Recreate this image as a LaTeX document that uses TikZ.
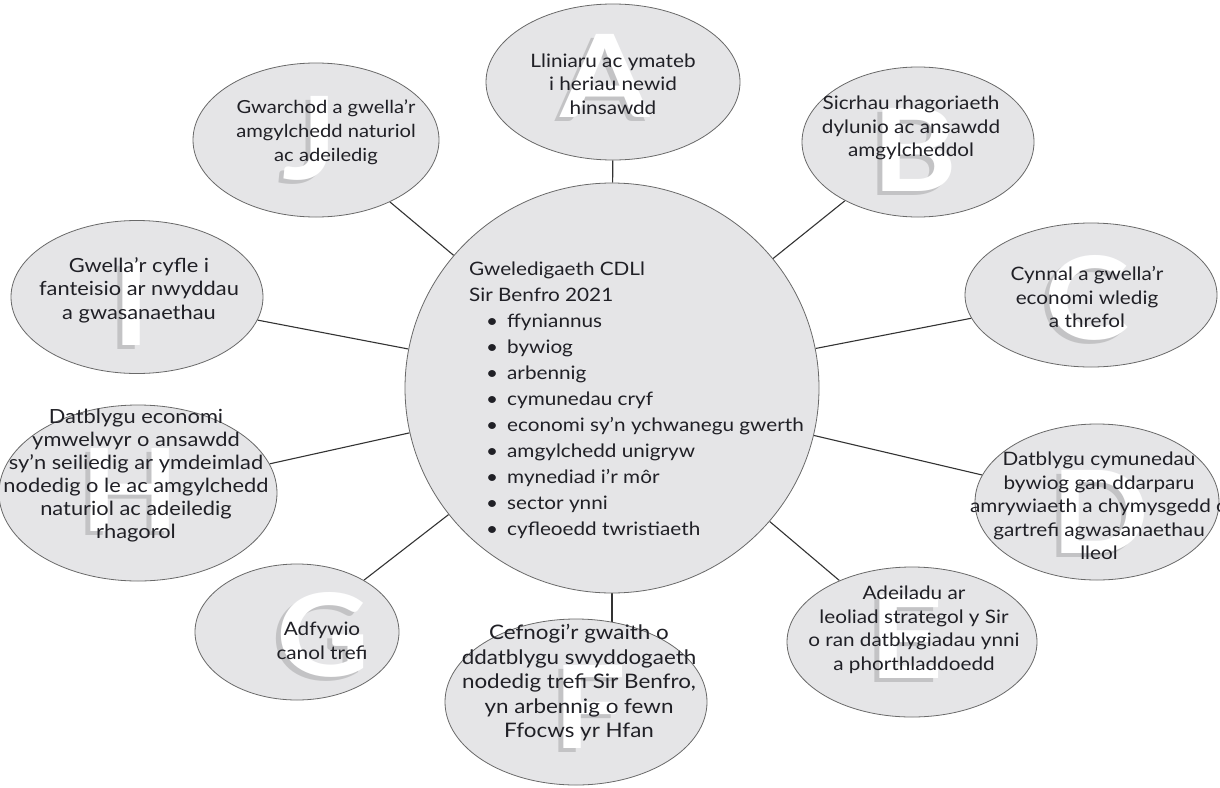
\documentclass[tikz,border=0pt]{standalone}
\usepackage{fontspec}
\setmainfont{Lato}[FakeStretch=1.12]
\usetikzlibrary{shapes.geometric,backgrounds}
\definecolor{bubfill}{RGB}{229,229,231}
\definecolor{bubline}{RGB}{105,105,105}
\definecolor{txtcol}{RGB}{32,32,38}
\newcommand{\zbul}{\hspace*{17pt}\makebox[21pt][l]{\textbullet}}
\begin{document}
\begin{tikzpicture}[x=1pt,y=-1pt,
  bub/.style={ellipse, draw=bubline, line width=0.8pt, fill=bubfill, inner sep=0pt},
  txt/.style={align=center, text=txtcol, font=\fontsize{18.5}{23.5}\selectfont, inner sep=0pt},
  bigtxt/.style={align=center, text=txtcol, font=\fontsize{19.5}{23.5}\selectfont, inner sep=0pt},
  ztxt/.style={align=left, text=txtcol, font=\fontsize{18.5}{26}\selectfont, inner sep=0pt},
  bigl/.style={text=white, font=\fontsize{115}{115}\selectfont\bfseries, inner sep=0pt},
  bigs/.style={text=black!50, opacity=0.33, font=\fontsize{115}{115}\selectfont\bfseries, inner sep=0pt},
  conn/.style={draw=black!80, line width=1.1pt}]
\useasboundingbox (0,0) rectangle (1220,787);

% bubbles
\node[bub, minimum width=414, minimum height=410] (Z) at (612,388) {};
\node[bub, minimum width=254, minimum height=156] (A) at (613,82) {};
\node[bub, minimum width=232, minimum height=150] (B) at (918,142) {};
\node[bub, minimum width=252, minimum height=144] (C) at (1091,295) {};
\node[bub, minimum width=244, minimum height=156] (D) at (1097,502) {};
\node[bub, minimum width=250, minimum height=150] (E) at (912,642) {};
\node[bub, minimum width=262, minimum height=166] (F) at (576,702) {};
\node[bub, minimum width=204, minimum height=136] (G) at (297,632) {};
\node[bub, minimum width=278, minimum height=176] (H) at (138,493) {};
\node[bub, minimum width=252, minimum height=153] (I) at (137,297) {};
\node[bub, minimum width=246, minimum height=154] (J) at (316,140) {};

% big faded letters
\node[bigs] (As) at (600,80) {A};   \node[bigl] (Al) at (605,76) {A};
\node[bigs] (Bs) at (910,154) {B};  \node[bigl] (Bl) at (915,150) {B};
\node[bigs] (Cs) at (1082,302) {C}; \node[bigl] (Cl) at (1087,298) {C};
\node[bigs] (Ds) at (1095,516) {D}; \node[bigl] (Dl) at (1100,512) {D};
\node[bigs] (Es) at (902,641) {E};  \node[bigl] (El) at (907,637) {E};
\node[bigs] (Fs) at (585,711) {F};  \node[bigl] (Fl) at (590,707) {F};
\node[bigs] (Gs) at (318,639) {G};  \node[bigl] (Gl) at (323,635) {G};
\node[bigs] (Hs) at (125,494) {H};  \node[bigl] (Hl) at (130,490) {H};
\node[bigs] (Is) at (127,308) {I};  \node[bigl] (Il) at (132,304) {I};
\node[bigs] (Js) at (305,142) {J};  \node[bigl] (Jl) at (310,138) {J};

% texts
\node[txt] (At) at (613,84) {Lliniaru ac ymateb\\i heriau newid\\hinsawdd};
\node[txt] (Bt) at (911,128) {Sicrhau rhagoriaeth\\dylunio ac ansawdd\\amgylcheddol};
\node[txt] (Ct) at (1087,297) {Cynnal a gwella’r\\economi wledig\\a threfol};
\node[txt] (Dt) at (1099,506) {Datblygu cymunedau\\bywiog gan ddarparu\\amrywiaeth a chymysgedd o\\gartrefi agwasanaethau\\lleol};
\node[txt] (Et) at (914,630) {Adeiladu ar\\leoliad strategol y Sir\\o ran datblygiadau ynni\\a phorthladdoedd};
\node[bigtxt, font=\fontsize{20}{24.5}\selectfont] (Ft) at (579,683) {Cefnogi’r gwaith o\\ddatblygu swyddogaeth\\nodedig trefi Sir Benfro,\\yn arbennig o fewn\\Ffocws yr Hfan};
\node[txt] (Gt) at (322,641) {Adfywio\\canol trefi};
\node[bigtxt, font=\fontsize{19.5}{23}\selectfont] (Ht) at (136,476) {Datblygu economi\\ymwelwyr o ansawdd\\sy’n seiliedig ar ymdeimlad\\nodedig o le ac amgylchedd\\naturiol ac adeiledig\\rhagorol};
\node[bigtxt] (It) at (139,290) {Gwella’r cyfle i\\fanteisio ar nwyddau\\a gwasanaethau};
\node[txt, font=\fontsize{18}{24}\selectfont] (Jt) at (326,132) {Gwarchod a gwella’r\\amgylchedd naturiol\\ac adeiledig};

\node[ztxt, anchor=west] (Zt) at (469,400) {Gweledigaeth CDLl\\Sir Benfro 2021\\
\zbul ffyniannus\\
\zbul bywiog\\
\zbul arbennig\\
\zbul cymunedau cryf\\
\zbul economi sy’n ychwanegu gwerth\\
\zbul amgylchedd unigryw\\
\zbul mynediad i’r môr\\
\zbul sector ynni\\
\zbul cyfleoedd twristiaeth};

\begin{pgfonlayer}{background}
\fill[white] (0,0) rectangle (1220,787);
\draw[conn] (Z) -- (A);
\draw[conn] (Z) -- (B);
\draw[conn] (Z) -- (C);
\draw[conn] (Z) -- (D);
\draw[conn] (Z) -- (E);
\draw[conn] (Z) -- (Z |- F);
\draw[conn] (Z) -- (G);
\draw[conn] (Z) -- (H);
\draw[conn] (Z) -- (I);
\draw[conn] (Z) -- (J);
\end{pgfonlayer}
\end{tikzpicture}
\end{document}
